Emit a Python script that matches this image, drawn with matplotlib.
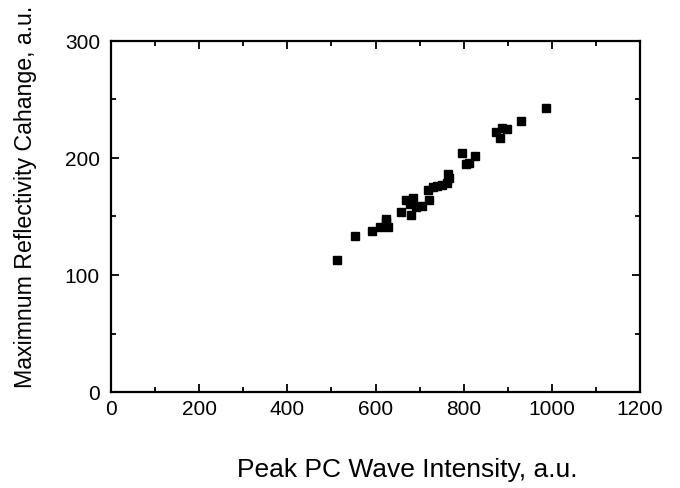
import matplotlib
matplotlib.use('Agg')
import matplotlib.pyplot as plt
from matplotlib.ticker import MultipleLocator

plt.rcParams['font.family'] = ['Liberation Sans', 'DejaVu Sans']

# 数据
intensity = [513, 554, 591, 610, 623, 629, 623, 658, 669, 678, 680, 686, 693, 705,
             718, 722, 731, 740, 750, 762, 765, 766, 797, 805, 812, 825, 873, 883,
             888, 899, 931, 987]
reflect = [113, 133, 138, 141, 148, 141, 145, 154, 164, 161, 151, 166, 158, 159,
           173, 164, 175, 176, 177, 179, 186, 183, 204, 195, 196, 202, 222, 217,
           226, 225, 232, 243]

fig = plt.figure(figsize=(6.8, 4.89), dpi=100)
ax = fig.add_axes([111/680, 1 - 393/489, (640-111)/680, (393-42)/489])

ax.plot(intensity, reflect, 's', color='black', markersize=5.5, linestyle='none')

ax.set_xlim(0, 1200)
ax.set_ylim(0, 300)
ax.xaxis.set_major_locator(MultipleLocator(200))
ax.xaxis.set_minor_locator(MultipleLocator(100))
ax.yaxis.set_major_locator(MultipleLocator(100))
ax.yaxis.set_minor_locator(MultipleLocator(50))
ax.tick_params(which='both', direction='in', top=True, right=True, labelsize=15, width=1.3)
ax.tick_params(which='major', length=6)
ax.tick_params(which='minor', length=3.5)
ax.tick_params(axis='x', which='major', pad=5)
ax.tick_params(axis='y', which='major', pad=8)
for s in ax.spines.values():
    s.set_linewidth(1.6)

ax.set_xlabel('Peak PC Wave Intensity, a.u.', fontsize=19)
ax.set_ylabel('Maximnum Reflectivity Cahange, a.u.', fontsize=16.7)
ax.xaxis.set_label_coords((407 - 111) / 529, -(477 - 393) / 351, transform=ax.transAxes)
ax.xaxis.label.set_va('baseline')
ax.yaxis.set_label_coords(-(111 - 26) / 529, (393 - 197) / 351, transform=ax.transAxes)
ax.yaxis.label.set_va('center')

fig.savefig('out.png', dpi=100)
